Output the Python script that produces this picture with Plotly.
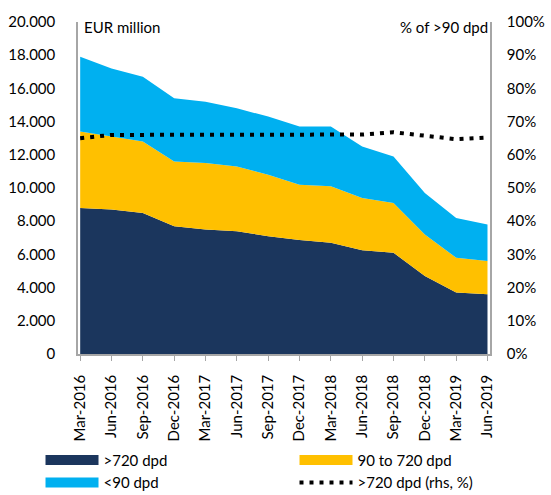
import plotly.graph_objects as go

categories = ["Mar-2016", "Jun-2016", "Sep-2016", "Dec-2016", "Mar-2017", "Jun-2017",
              "Sep-2017", "Dec-2017", "Mar-2018", "Jun-2018", "Sep-2018", "Dec-2018",
              "Mar-2019", "Jun-2019"]
over_720 = [8800, 8700, 8500, 7700, 7500, 7400, 7100, 6870, 6700, 6250, 6100, 4700, 3700, 3600]
d90_to_720 = [4600, 4400, 4300, 3900, 4000, 3900, 3700, 3330, 3400, 3150, 3000, 2500, 2100, 2000]
under_90 = [4500, 4100, 3900, 3800, 3700, 3500, 3500, 3500, 3600, 3100, 2800, 2500, 2400, 2200]
share_720 = [65.0, 66.0, 66.0, 66.0, 66.0, 66.0, 66.0, 66.0, 66.0, 66.1, 66.8, 65.9, 64.7, 65.2]

left_ticks = [0, 2000, 4000, 6000, 8000, 10000, 12000, 14000, 16000, 18000, 20000]
left_tick_labels = ["0", "2.000", "4.000", "6.000", "8.000", "10.000", "12.000",
                    "14.000", "16.000", "18.000", "20.000"]
right_ticks = [0, 10, 20, 30, 40, 50, 60, 70, 80, 90, 100]
right_tick_labels = ["0%", "10%", "20%", "30%", "40%", "50%", "60%", "70%", "80%",
                     "90%", "100%"]

NAVY = "#1B365D"
YELLOW = "#FFC000"
BLUE = "#00B0F0"
AXIS = "#A6A6A6"
FONT = "Lato"

x = list(range(len(categories)))

fig = go.Figure()
fig.add_trace(go.Scatter(x=x, y=over_720, name=">720 dpd", stackgroup="a", mode="none",
                         fillcolor=NAVY, showlegend=False))
fig.add_trace(go.Scatter(x=x, y=d90_to_720, name="90 to 720 dpd", stackgroup="a", mode="none",
                         fillcolor=YELLOW, showlegend=False))
fig.add_trace(go.Scatter(x=x, y=under_90, name="<90 dpd", stackgroup="a", mode="none",
                         fillcolor=BLUE, showlegend=False))
fig.add_trace(go.Scatter(x=x, y=share_720, name=">720 dpd (rhs, %)", yaxis="y2", mode="lines",
                         line=dict(color="black", width=4, dash="4px,6px"), showlegend=False))

# legend entries (two columns as two legends)
fig.add_trace(go.Scatter(x=[None], y=[None], name=">720 dpd", mode="lines",
                         line=dict(color=NAVY, width=12), legend="legend"))
fig.add_trace(go.Scatter(x=[None], y=[None], name="<90 dpd", mode="lines",
                         line=dict(color=BLUE, width=12), legend="legend"))
fig.add_trace(go.Scatter(x=[None], y=[None], name="90 to 720 dpd", mode="lines",
                         line=dict(color=YELLOW, width=12), legend="legend2"))
fig.add_trace(go.Scatter(x=[None], y=[None], name=">720 dpd (rhs, %)", mode="lines",
                         line=dict(color="black", width=4, dash="4px,6px"), legend="legend2"))

legend_common = dict(orientation="v", xanchor="left", y=-0.27, yanchor="top",
                     itemwidth=53, font=dict(size=15, family=FONT),
                     traceorder="normal", tracegroupgap=0, bgcolor="rgba(0,0,0,0)")

fig.update_layout(
    width=551, height=495,
    margin=dict(l=78, r=61, t=22, b=141, autoexpand=False),
    paper_bgcolor="white", plot_bgcolor="white",
    font=dict(family=FONT, size=15, color="black"),
    showlegend=True,
    legend=dict(x=-0.091, **legend_common),
    legend2=dict(x=0.5255, **legend_common),
    xaxis=dict(range=[-0.07, 13.08], tickmode="array", tickvals=x, ticktext=categories,
               tickangle=-90, ticks="outside", ticklen=5, tickcolor=AXIS,
               showline=True, linecolor=AXIS, linewidth=1.5, showgrid=False, zeroline=False,
               ticklabelstandoff=8, tickfont=dict(size=15), automargin=False),
    yaxis=dict(range=[0, 20000], tickmode="array", tickvals=left_ticks,
               ticktext=left_tick_labels,
               showline=True, linecolor=AXIS, linewidth=1.5, showgrid=False, zeroline=False,
               ticks="", ticklabelstandoff=18, tickfont=dict(size=15), automargin=False),
    yaxis2=dict(range=[0, 100], overlaying="y", side="right", tickmode="array",
                tickvals=right_ticks, ticktext=right_tick_labels, showline=True,
                linecolor=AXIS, linewidth=1.5, showgrid=False, zeroline=False, ticks="",
                ticklabelstandoff=12, tickfont=dict(size=15), automargin=False),
    annotations=[
        dict(text="EUR million", xref="paper", yref="paper", x=0.01, y=0.985,
             xanchor="left", yanchor="middle", showarrow=False, font=dict(size=15)),
        dict(text="% of >90 dpd", xref="paper", yref="paper", x=1.0, y=0.985,
             xanchor="right", yanchor="middle", showarrow=False, font=dict(size=15)),
    ],
)

fig.write_html("out.html", config={"displayModeBar": False},
               post_script="document.body.style.margin='0';")
